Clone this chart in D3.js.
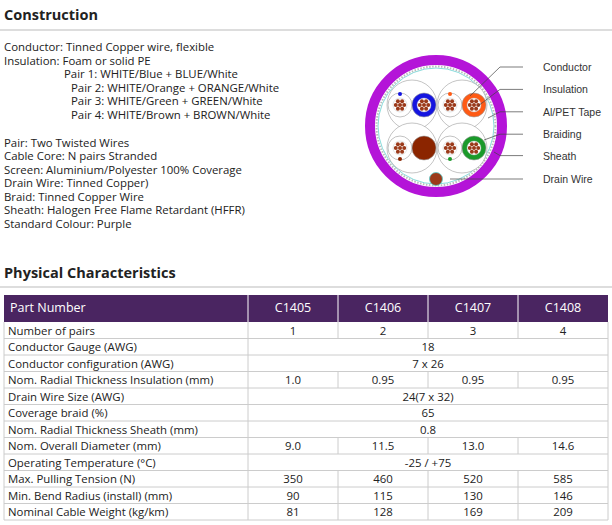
<!DOCTYPE html><html><head><meta charset="utf-8"><script src="https://cdn.jsdelivr.net/npm/d3@7"></script>
<style>body{margin:0;background:#fff}</style></head><body><svg id="c" width="612" height="525"></svg>
<script>
const constructionLines=[["Conductor: Tinned Copper wire, flexible",0],["Insulation: Foam or solid PE",0],["Pair 1: WHITE/Blue + BLUE/White",60],["Pair 2: WHITE/Orange + ORANGE/White",67],["Pair 3: WHITE/Green + GREEN/White",67],["Pair 4: WHITE/Brown + BROWN/White",67]];
const constructionLines2=["Pair: Two Twisted Wires","Cable Core: N pairs Stranded","Screen: Aluminium/Polyester 100% Coverage","Drain Wire: Tinned Copper)","Braid: Tinned Copper Wire","Sheath: Halogen Free Flame Retardant (HFFR)","Standard Colour: Purple"];
const diagramLabels=["Conductor","Insulation","Al/PET Tape","Braiding","Sheath","Drain Wire"];
const pairColours=["#1515e0","#ff5a14","#8b2500","#1a9a2a"];
const partNumbers=["C1405","C1406","C1407","C1408"];
const rowLabels=["Number of pairs","Conductor Gauge (AWG)","Conductor configuration (AWG)","Nom. Radial Thickness Insulation (mm)","Drain Wire Size (AWG)","Coverage braid (%)","Nom. Radial Thickness Sheath (mm)","Nom. Overall Diameter (mm)","Operating Temperature (°C)","Max. Pulling Tension (N)","Min. Bend Radius (install) (mm)","Nominal Cable Weight (kg/km)"];
const rowValues=[["1","2","3","4"],["18"],["7 x 26"],["1.0","0.95","0.95","0.95"],["24(7 x 32)"],["65"],["0.8"],["9.0","11.5","13.0","14.6"],["-25 / +75"],["350","460","520","585"],["90","115","130","146"],["81","128","169","209"]];

const svg=d3.select("#c"),F="Open Sans, sans-serif",FS=11.4;
function title(t,y,ly){svg.append("text").attr("x",4).attr("y",y).attr("font-family",F).attr("font-weight","bold").attr("font-size",14.5).attr("fill","#222").text(t);
 svg.append("line").attr("x1",0).attr("x2",612).attr("y1",ly).attr("y2",ly).attr("stroke","#bbb");}
title("Construction",20,30);title("Physical Characteristics",278,287);
const ty=d3.scaleLinear().domain([0,1]).range([51,64.5]);
constructionLines.forEach((d,i)=>svg.append("text").attr("x",4+d[1]).attr("y",ty(i)).attr("font-family",F).attr("font-size",FS).attr("fill","#222").text(d[0]));
constructionLines2.forEach((d,i)=>svg.append("text").attr("x",4).attr("y",ty(i+7.1)).attr("font-family",F).attr("font-size",FS).attr("fill","#222").text(d));

// diagram
const cx=436,cy=126,g=svg.append("g");
g.append("circle").attr("cx",cx).attr("cy",cy).attr("r",66).attr("fill","#fff").attr("stroke","#b414d8").attr("stroke-width",10);
g.append("circle").attr("cx",cx).attr("cy",cy).attr("r",59.5).attr("fill","none").attr("stroke","#bbb").attr("stroke-width",2).attr("stroke-dasharray","1.5 1.5");
g.append("circle").attr("cx",cx).attr("cy",cy).attr("r",58).attr("fill","none").attr("stroke","#5cc").attr("stroke-width",0.7);
const pos=[[-24,-21],[26,-21],[-24,22],[26,22]];
pos.forEach((p,i)=>{const x=cx+p[0],y=cy+p[1];
 g.append("circle").attr("cx",x).attr("cy",y).attr("r",25).attr("fill","#fff").attr("stroke","#aaa").attr("stroke-width",0.7);
 const col=pairColours[i];
 [[-12,"#fff"],[12,col]].forEach(([dx,f])=>{
  g.append("circle").attr("cx",x+dx).attr("cy",y).attr("r",12).attr("fill",f).attr("stroke","#999").attr("stroke-width",0.6);
  if(f=="#8b2500")return;
  g.append("circle").attr("cx",x+dx).attr("cy",y).attr("r",7).attr("fill","#fff").attr("stroke","#bbb").attr("stroke-width",0.4);
  d3.range(7).forEach(k=>{const a=k*Math.PI/3,rr=k==6?0:4.2;g.append("circle").attr("cx",x+dx+(k==6?0:rr*Math.cos(a))).attr("cy",y+(k==6?0:rr*Math.sin(a))).attr("r",2).attr("fill","#9b3a1a");});
 });
 g.append("circle").attr("cx",x-12).attr("cy",y+(i<2?-11:11)).attr("r",2).attr("fill",col);
});
g.append("circle").attr("cx",cx).attr("cy",179).attr("r",6.5).attr("fill","#9b3a1a").attr("stroke","#5cc").attr("stroke-width",0.8);
const ly=d3.scaleLinear().domain([0,5]).range([67,179]);
const targets=[[470,96],[478,106],[488,118],[484,140],[494,152],[450,179]];
diagramLabels.forEach((t,i)=>{const y=ly(i)+(i==4?-1:0);
 svg.append("polyline").attr("points",`${targets[i][0]},${targets[i][1]} ${i==5?targets[i][0]:500},${y} 523,${y}`).attr("fill","none").attr("stroke","#444").attr("stroke-width",0.7);
 svg.append("text").attr("x",543).attr("y",y+4).attr("font-family","Liberation Sans, Arial").attr("font-size",10.5).attr("fill","#333").text(t);});

// table
const x=d3.scaleLinear().domain([0,1,2,3,4,5]).range([4,248,338,428,518,608]);
const y=d3.scaleLinear().domain([0,12]).range([322,520]);
svg.append("rect").attr("x",x(0)).attr("y",295).attr("width",x(5)-x(0)).attr("height",27).attr("fill","#4a2561");
svg.append("text").attr("x",10).attr("y",312).attr("font-family",F).attr("font-size",12.5).attr("fill","#fff").text("Part Number");
partNumbers.forEach((p,i)=>{svg.append("text").attr("x",(x(i+1)+x(i+2))/2).attr("y",312).attr("text-anchor","middle").attr("font-family",F).attr("font-size",12.5).attr("fill","#fff").text(p);
 svg.append("line").attr("x1",x(i+1)).attr("x2",x(i+1)).attr("y1",295).attr("y2",322).attr("stroke","#fff");});
rowLabels.forEach((l,r)=>{const yb=y(r+1);
 svg.append("line").attr("x1",x(0)).attr("x2",x(5)).attr("y1",yb).attr("y2",yb).attr("stroke","#ccc");
 svg.append("text").attr("x",8).attr("y",y(r)+12.5).attr("font-family",F).attr("font-size",FS).attr("fill","#222").text(l);
 const v=rowValues[r];
 const lines=v.length==4?[1,2,3,4]:[1];
 lines.forEach(c=>svg.append("line").attr("x1",x(c)).attr("x2",x(c)).attr("y1",y(r)).attr("y2",yb).attr("stroke","#ccc"));
 if(v.length==4)v.forEach((t,i)=>svg.append("text").attr("x",(x(i+1)+x(i+2))/2).attr("y",y(r)+12.5).attr("text-anchor","middle").attr("font-family",F).attr("font-size",FS).attr("fill","#222").text(t));
 else svg.append("text").attr("x",(x(1)+x(5))/2).attr("y",y(r)+12.5).attr("text-anchor","middle").attr("font-family",F).attr("font-size",FS).attr("fill","#222").text(v[0]);
});
[0,5].forEach(c=>svg.append("line").attr("x1",x(c)).attr("x2",x(c)).attr("y1",322).attr("y2",520).attr("stroke","#ccc"));
</script></body></html>
